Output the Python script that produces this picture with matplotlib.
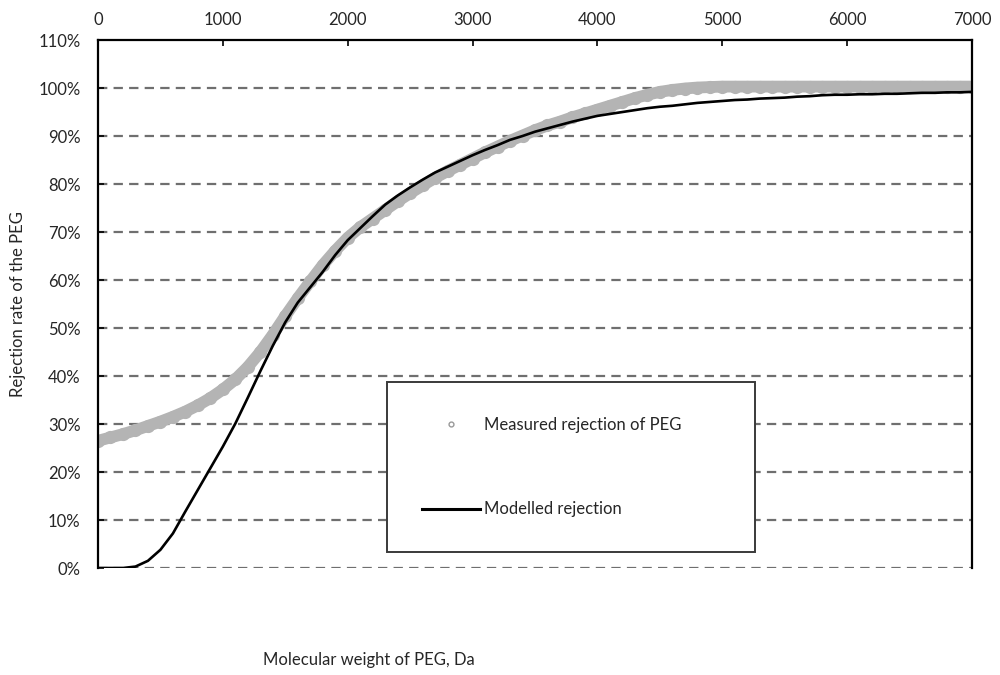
import numpy as np
import matplotlib
matplotlib.use("Agg")
import matplotlib.pyplot as plt
from matplotlib.lines import Line2D
from matplotlib.ticker import FuncFormatter

# ============================================================
# DATA
# ============================================================

mw_da = np.arange(0, 7001, 100)

measured_rejection = [
    26.5, 27.2, 27.9, 28.7, 29.6, 30.5, 31.5, 32.6, 33.9, 35.4,
    37.2, 39.3, 41.9, 45.0, 48.6, 52.5, 56.2, 59.7, 63.1, 66.1,
    68.8, 71.0, 72.8, 74.6, 76.4, 78.1, 79.7, 81.3, 82.7, 84.0,
    85.3, 86.6, 87.8, 89.0, 90.1, 91.2, 92.2, 93.0, 93.9, 94.7,
    95.5, 96.3, 97.1, 97.9, 98.6, 99.2, 99.6, 99.9, 100.1, 100.2,
    100.3, 100.3, 100.3, 100.3, 100.3, 100.3, 100.3, 100.3, 100.3, 100.3,
    100.3, 100.3, 100.3, 100.3, 100.3, 100.3, 100.3, 100.3, 100.3, 100.3,
    100.3,
]

modelled_rejection = [
    0.0, 0.0, 0.0, 0.3, 1.5, 3.8, 7.2, 11.8, 16.3, 20.8,
    25.3, 30.1, 35.5, 41.0, 46.3, 51.2, 55.3, 58.5, 61.7, 65.2,
    68.3, 70.8, 73.3, 75.7, 77.6, 79.3, 80.9, 82.4, 83.6, 84.8,
    86.0, 87.1, 88.1, 89.2, 90.0, 90.9, 91.6, 92.3, 93.0, 93.6,
    94.2, 94.6, 95.0, 95.4, 95.8, 96.1, 96.3, 96.6, 96.9, 97.1,
    97.3, 97.5, 97.6, 97.8, 97.9, 98.0, 98.2, 98.3, 98.5, 98.6,
    98.6, 98.7, 98.7, 98.8, 98.8, 98.9, 99.0, 99.0, 99.1, 99.1,
    99.2,
]

x_ticks = [0, 1000, 2000, 3000, 4000, 5000, 6000, 7000]
y_ticks = [0, 10, 20, 30, 40, 50, 60, 70, 80, 90, 100, 110]

MEASURED_LABEL = "Measured rejection of PEG"
MODELLED_LABEL = "Modelled rejection"

# ============================================================
# STYLE
# ============================================================

plt.rcParams["font.family"] = ["Lato", "DejaVu Sans"]
TEXT_COLOR = "#262626"
GRAY_BAND = "#b4b4b4"
GRID_COLOR = "#6f6f6f"
FONT_SIZE = 12

# ============================================================
# FIGURE
# ============================================================

fig = plt.figure(figsize=(10, 6.75), dpi=100)
ax = fig.add_axes([0.098, 0.1585, 0.874, 0.7822])

# gridlines (dashed), drawn under the data
for y in y_ticks[:-1]:
    ax.axhline(y, color=GRID_COLOR, lw=1.6, ls=(0, (4.2, 2.8)), zorder=1)

ax.plot(
    mw_da,
    measured_rejection,
    color=GRAY_BAND,
    lw=8.5,
    marker="o",
    ms=8.5,
    mfc=GRAY_BAND,
    mec=GRAY_BAND,
    solid_capstyle="butt",
    zorder=2,
)

ax.plot(
    mw_da,
    modelled_rejection,
    color="black",
    lw=1.9,
    zorder=3,
)

ax.set_xlim(0, 7000)
ax.set_ylim(0, 110)

ax.xaxis.tick_top()
ax.set_xticks(x_ticks)
ax.set_yticks(y_ticks)
ax.yaxis.set_major_formatter(FuncFormatter(lambda v, _: f"{v:.0f}%"))

ax.tick_params(
    axis="x", direction="in", length=4, width=1.2,
    labelsize=FONT_SIZE, labelcolor=TEXT_COLOR, pad=9,
)
ax.tick_params(
    axis="y", direction="in", length=4, width=1.2,
    labelsize=FONT_SIZE, labelcolor=TEXT_COLOR, pad=12.5,
)

for side in ["left", "top", "right"]:
    ax.spines[side].set_linewidth(1.6)
    ax.spines[side].set_color("black")
ax.spines["bottom"].set_visible(False)

# ============================================================
# LEGEND
# ============================================================

handles = [
    Line2D([], [], ls="none", marker="o", ms=3.5, mfc="white",
           mec="#999999", mew=1.0, label=MEASURED_LABEL),
    Line2D([], [], color="black", lw=2.2, label=MODELLED_LABEL),
]

leg = ax.legend(
    handles=handles,
    loc="upper left",
    bbox_to_anchor=(0.387, 0.424, 0.368, 0.01),
    bbox_transform=fig.transFigure,
    mode="expand",
    fontsize=FONT_SIZE,
    borderpad=2.1,
    labelspacing=4.1,
    handlelength=3.5,
    handletextpad=0.2,
    borderaxespad=0,
    fancybox=False,
    framealpha=1,
    edgecolor="#3a3a3a",
)
leg.get_frame().set_linewidth(1.4)
for t in leg.get_texts():
    t.set_color(TEXT_COLOR)

# ============================================================
# AXIS TITLES
# ============================================================

fig.text(0.018, 0.55, "Rejection rate of the PEG", rotation=90,
         ha="center", va="center", fontsize=FONT_SIZE, color=TEXT_COLOR)
fig.text(0.263, 1 - 660 / 675, "Molecular weight of PEG, Da",
         ha="left", va="center", fontsize=FONT_SIZE, color=TEXT_COLOR)

fig.savefig("out.png", dpi=100)
plt.close(fig)
